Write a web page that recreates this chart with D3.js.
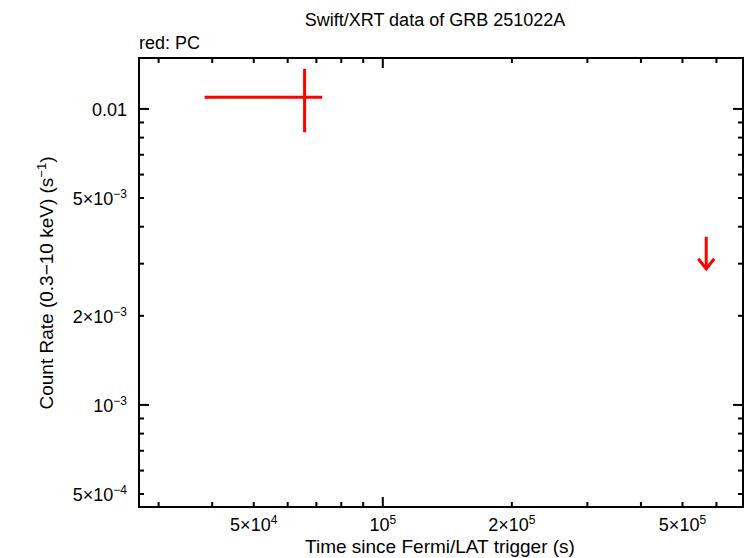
<!DOCTYPE html>
<html><head><meta charset="utf-8">
<script src="https://cdn.jsdelivr.net/npm/d3@7"></script>
<style>body{margin:0;background:#fff}text{font-family:"Liberation Sans",Arial,sans-serif}</style>
</head><body><svg width="746" height="558"></svg>
<script>
const title = 'Swift/XRT data of GRB 251022A';
const xTicks = [[5e4, '5×10', '4'], [1e5, '10', '5'], [2e5, '2×10', '5'], [5e5, '5×10', '5']];
const yTicks = [[5e-4, '5×10', '−4'], [1e-3, '10', '−3'], [2e-3, '2×10', '−3'], [5e-3, '5×10', '−3'], [0.01, '0.01', '']];
// PC points: t, t-, t+, rate, rate-, rate+
const pcT = [6.57e4], pcTlo = [3.84e4], pcThi = [7.22e4];
const pcR = [0.01095], pcRlo = [8.34e-3], pcRhi = [0.01365];
// upper limits
const ulT = [5.68e5], ulR = [3.70e-3];

const L = 139, R = 743, T = 58, B = 507;
const COLOR = 'red';
const svg = d3.select('svg');
const x = d3.scaleLog().domain([2.70e4, 6.92e5]).range([L, R]);
const y = d3.scaleLog().domain([4.52e-4, 0.01486]).range([B, T]);

// minor/major ticks on all sides
let xt = [], yt = [];
for (let e = 4; e <= 5; e++) for (let m = 1; m <= 9; m++) { let v = m * Math.pow(10, e); if (v > x.domain()[0] && v < x.domain()[1]) xt.push([v, m === 1]); }
for (let e = -4; e <= -2; e++) for (let m = 1; m <= 9; m++) { let v = m * Math.pow(10, e); if (v > y.domain()[0] && v < y.domain()[1]) yt.push([v, m === 1]); }
xt.forEach(function (t) {
    let px = x(t[0]), len = t[1] ? 10 : 5;
    svg.append('line').attr('x1', px).attr('x2', px).attr('y1', B).attr('y2', B - len).attr('stroke', '#000').attr('stroke-width', 2);
    svg.append('line').attr('x1', px).attr('x2', px).attr('y1', T).attr('y2', T + len).attr('stroke', '#000').attr('stroke-width', 2);
});
yt.forEach(function (t) {
    let py = y(t[0]), len = t[1] ? 10 : 5;
    svg.append('line').attr('y1', py).attr('y2', py).attr('x1', L).attr('x2', L + len).attr('stroke', '#000').attr('stroke-width', 2);
    svg.append('line').attr('y1', py).attr('y2', py).attr('x1', R).attr('x2', R - len).attr('stroke', '#000').attr('stroke-width', 2);
});
svg.append('rect').attr('x', L).attr('y', T).attr('width', R - L).attr('height', B - T)
    .attr('fill', 'none').attr('stroke', '#000').attr('stroke-width', 2);

xTicks.forEach(function (t) {
    let txt = svg.append('text').attr('x', x(t[0])).attr('y', B + 24).attr('text-anchor', 'middle').attr('font-size', 18);
    txt.append('tspan').text(t[1]);
    txt.append('tspan').attr('dy', -7).attr('font-size', 12).text(t[2]);
});
yTicks.forEach(function (t) {
    let txt = svg.append('text').attr('x', L - 12).attr('y', y(t[0]) + 7).attr('text-anchor', 'end').attr('font-size', 18);
    txt.append('tspan').text(t[1]);
    if (t[2]) txt.append('tspan').attr('dy', -7).attr('font-size', 12).text(t[2]);
});

svg.append('text').attr('x', 435).attr('y', 26).attr('text-anchor', 'middle').attr('font-size', 18).text(title);
svg.append('text').attr('x', L).attr('y', 49).attr('font-size', 18).text('red: PC');
svg.append('text').attr('x', 440).attr('y', 553).attr('text-anchor', 'middle').attr('font-size', 19).text('Time since Fermi/LAT trigger (s)');
let yl = svg.append('text').attr('transform', 'translate(53,283) rotate(-90)').attr('text-anchor', 'middle').attr('font-size', 19);
yl.append('tspan').text('Count Rate (0.3−10 keV) (s');
yl.append('tspan').attr('dy', -7).attr('font-size', 13).text('−1');
yl.append('tspan').attr('dy', 7).text(')');

pcT.forEach(function (t, i) {
    svg.append('line').attr('x1', x(pcTlo[i])).attr('x2', x(pcThi[i])).attr('y1', y(pcR[i])).attr('y2', y(pcR[i])).attr('stroke', COLOR).attr('stroke-width', 3);
    svg.append('line').attr('x1', x(t)).attr('x2', x(t)).attr('y1', y(pcRlo[i])).attr('y2', y(pcRhi[i])).attr('stroke', COLOR).attr('stroke-width', 3);
});
ulT.forEach(function (t, i) {
    let px = x(t), py = y(ulR[i]);
    svg.append('line').attr('x1', px).attr('x2', px).attr('y1', py).attr('y2', py + 32).attr('stroke', COLOR).attr('stroke-width', 3);
    svg.append('path').attr('d', `M${px - 8},${py + 22} L${px},${py + 32} L${px + 8},${py + 22}`)
        .attr('fill', 'none').attr('stroke', COLOR).attr('stroke-width', 3);
});
</script></body></html>
